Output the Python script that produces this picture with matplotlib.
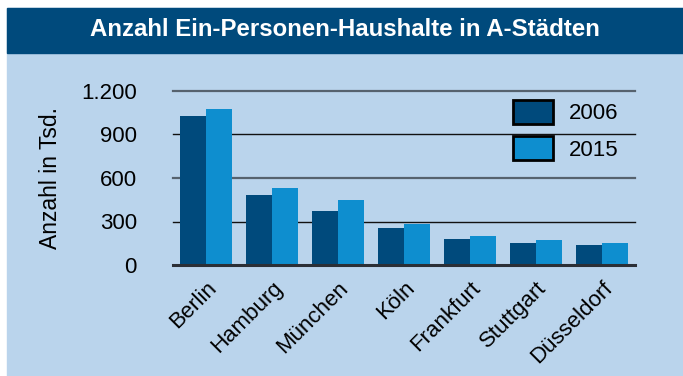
import matplotlib
matplotlib.use('Agg')
from matplotlib import pyplot as plt
from matplotlib.patches import Rectangle, Patch

plt.rcParams['font.family'] = ['Liberation Sans', 'DejaVu Sans']

# Ein-Personen-Haushalte in Tsd.
staedte = ['Berlin', 'Hamburg', 'München', 'Köln', 'Frankfurt', 'Stuttgart', 'Düsseldorf']
werte_2006 = [1030, 483, 372, 255, 179, 152, 138]
werte_2015 = [1076, 531, 448, 283, 200, 172, 152]
y_ticks = [0, 300, 600, 900, 1200]
y_ticklabels = ['0', '300', '600', '900', '1.200']

dunkel = '#004a7c'
hell = '#0e8ecf'
panel = '#bad4ec'

W, H = 683, 376
fig = plt.figure(figsize=(W / 100, H / 100), dpi=100)
fig.patch.set_facecolor('white')

# Hintergrund und Titelleiste
fig.patches.append(Rectangle((7 / W, 0), 676 / W, 368 / H,
                             transform=fig.transFigure, color=panel, zorder=-2))
fig.patches.append(Rectangle((7 / W, 1 - 53 / H), 676 / W, 45 / H,
                             transform=fig.transFigure, color=dunkel, zorder=-1))
fig.text(345 / W, 1 - 29 / H, 'Anzahl Ein-Personen-Haushalte in A-Städten',
         color='white', fontsize=17.3, fontweight='bold', ha='center', va='center')

ax = fig.add_axes([173 / W, 1 - 265 / H, 462 / W, 174 / H])
ax.set_facecolor('none')
for s in ax.spines.values():
    s.set_visible(False)

x = list(range(len(staedte)))
b = 0.4
ax.bar([i - b / 2 for i in x], werte_2006, width=b, color=dunkel, zorder=3)
ax.bar([i + b / 2 for i in x], werte_2015, width=b, color=hell, zorder=3)

# Gitterlinien: 300/900 fein schwarz, 600/1.200 etwas breiter grau
for t in y_ticks[1:]:
    if t % 600 == 0:
        ax.axhline(t, color='#56626e', lw=1.6, zorder=1, clip_on=False)
    else:
        ax.axhline(t, color='#111111', lw=1.0, zorder=1, clip_on=False)
ax.axhline(0, color='#2b2f36', lw=2.2, zorder=4, clip_on=False)

ax.set_xlim(-0.5, len(staedte) - 0.5)
ax.set_ylim(0, 1200)
ax.set_yticks(y_ticks)
ax.set_yticklabels(y_ticklabels, fontsize=16)
ax.tick_params(axis='y', length=0, pad=26)
ax.set_xticks(x)
ax.set_xticklabels(staedte, fontsize=16, rotation=45, ha='right',
                   rotation_mode='anchor')
ax.tick_params(axis='x', length=0, pad=9)
ax.set_ylabel('Anzahl in Tsd.', fontsize=16.5, labelpad=14)

handles = [Patch(facecolor=dunkel, edgecolor='black', lw=2, label='2006'),
           Patch(facecolor=hell, edgecolor='black', lw=2, label='2015')]
ax.legend(handles=handles, loc='upper left', bbox_to_anchor=(513 / W, 1 - 100 / H),
          bbox_transform=fig.transFigure, frameon=False, fontsize=16,
          handlelength=1.8, handleheight=1.25, labelspacing=0.55,
          handletextpad=0.7, borderpad=0, borderaxespad=0)

fig.savefig('out.png', dpi=100)
